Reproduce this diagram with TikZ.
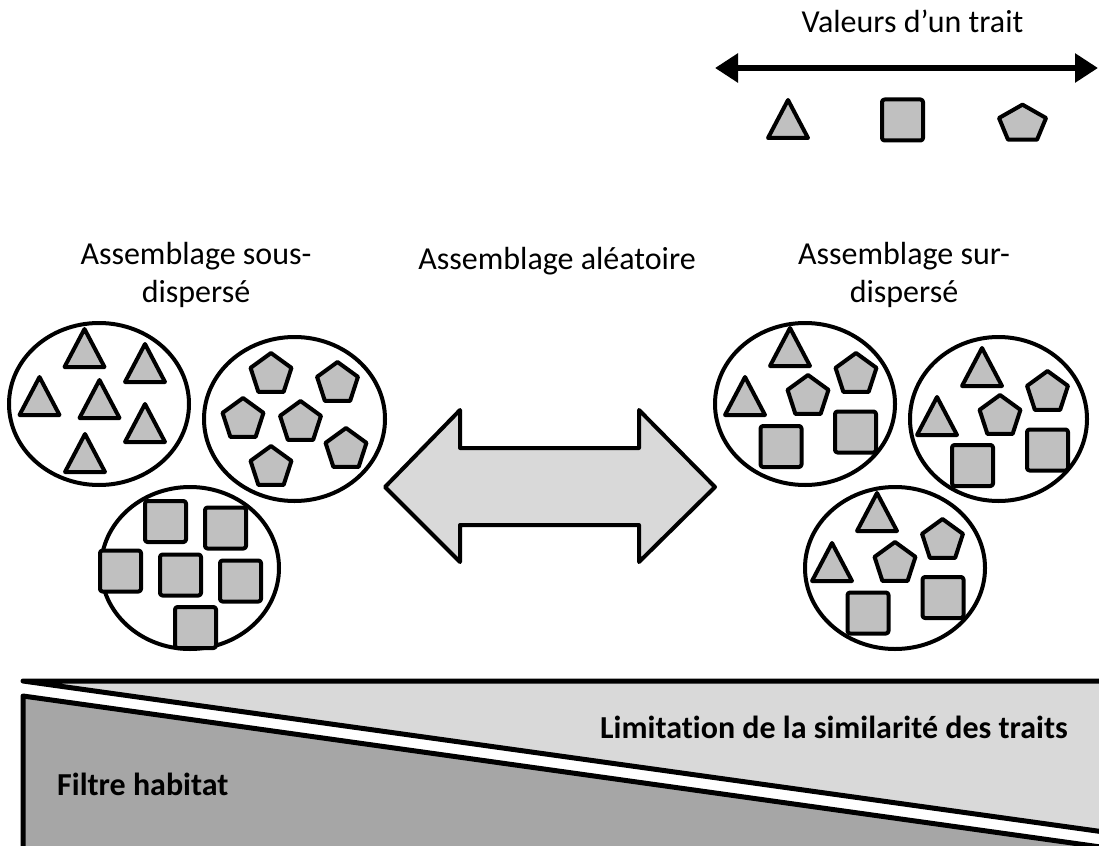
\documentclass[tikz,border=0pt]{standalone}
\usepackage{fontspec}
\setmainfont{Carlito}[Ligatures={NoCommon}]
\usetikzlibrary{arrows.meta}
\definecolor{shapefill}{HTML}{C0C0C0}
\definecolor{lightband}{HTML}{D9D9D9}
\definecolor{darkband}{HTML}{A6A6A6}
\begin{document}
\begin{tikzpicture}[x=1pt,y=-1pt,
  outline/.style={draw=black, line width=4pt, line join=round},
  piece/.style={outline, fill=shapefill},
  bandline/.style={draw=black, line width=5pt, line join=round},
  lbl/.style={inner sep=0pt, font=\fontsize{32}{38}\selectfont},
  boldlbl/.style={inner sep=0pt, font=\fontsize{32}{38}\selectfont\bfseries},
  tri/.pic={\path[piece] (-20,0) -- (20,0) -- (0,-38) -- cycle;},
  sq/.pic={\path[piece, rounded corners=2.5pt] (-20.5,-20.5) rectangle (20.5,20.5);},
  pent/.pic={\path[piece] (0,-21.5) -- (20.45,-6.64) -- (12.64,17.39)
                         -- (-12.64,17.39) -- (-20.45,-6.64) -- cycle;},
]
\clip (0,0) rectangle (1099,845);

% ---- legend: range of trait values ----
\node[lbl, anchor=base] (valeurs) at (912.5,33) {Valeurs d’un trait};
\coordinate (vl) at (715,68);
\coordinate (vr) at (1098,68);
\draw[line width=6pt, {Triangle[length=23pt,width=28pt]}-{Triangle[length=23pt,width=28pt]}] (vl) -- (vr);
\pic at (788,138) {tri};
\pic at (902.5,120) {sq};
\pic[xscale=1.15, yscale=0.9] at (1022.5,124) {pent};

% ---- titles (base anchor sits on the last line) ----
\node[lbl, anchor=base, align=center] (sous) at (196,302) {Assemblage sous-\\dispersé};
\node[lbl, anchor=base] (alea) at (557,269) {Assemblage aléatoire};
\node[lbl, anchor=base, align=center] (sur) at (904,302) {Assemblage sur-\\dispersé};

% ---- under-dispersed assemblages ----
\coordinate (ltri) at (99,404);
\coordinate (lpent) at (294.5,419);
\coordinate (lsq) at (190,568);
\draw[outline] (ltri) ellipse [x radius=90, y radius=81];
\draw[outline] (lpent) ellipse [x radius=90.5, y radius=82];
\draw[outline] (lsq) ellipse [x radius=89, y radius=81];
\foreach \x/\y in {84.5/367, 145/382, 39.5/415, 99.5/418, 145/442, 85/472}
  \pic at (\x,\y) {tri};
\foreach \x/\y in {271/374.5, 337.5/383.5, 243/419.5, 300.5/422.5, 346/449.5, 271/467.5}
  \pic at (\x,\y) {pent};
\foreach \x/\y in {165.5/521.5, 225.5/528, 120.5/571, 180.5/575, 240.5/581, 195.5/627.5}
  \pic at (\x,\y) {sq};

% ---- random assemblage arrow ----
\draw[outline, fill=lightband]
  (385,487) -- (460,410) -- (460,448) -- (639,448) -- (639,410) -- (715,487)
  -- (639,562) -- (639,525) -- (460,525) -- (460,562) -- cycle;

% ---- over-dispersed assemblages ----
\coordinate (ra) at (805,404);
\coordinate (rb) at (998.5,419);
\coordinate (rc) at (895,568);
\draw[outline] (ra) ellipse [x radius=90, y radius=81];
\draw[outline] (rb) ellipse [x radius=88.5, y radius=82];
\draw[outline] (rc) ellipse [x radius=90, y radius=81];
\foreach \x/\y in {790/366, 745/415, 982/386, 937/435, 877/531, 832/581}
  \pic at (\x,\y) {tri};
\foreach \x/\y in {856/374.5, 808/396.5, 1047.5/392.5, 1000/416.5, 942.5/540.5, 895/563.5}
  \pic at (\x,\y) {pent};
\foreach \x/\y in {781/446.5, 855.5/432, 972.5/465.5, 1047.5/450, 868/613, 943/597.5}
  \pic at (\x,\y) {sq};

% ---- gradient of processes ----
\draw[bandline, fill=darkband] (23,696) -- (1115,849) -- (1115,870) -- (23,870) -- cycle;
\draw[bandline, fill=lightband] (23,681) -- (1115,681) -- (1115,833.5) -- cycle;
\node[boldlbl, anchor=base west] (lim) at (600,738) {Limitation de la similarité des traits};
\node[boldlbl, anchor=base west] (filtre) at (57,795) {Filtre habitat};
\end{tikzpicture}
\end{document}
